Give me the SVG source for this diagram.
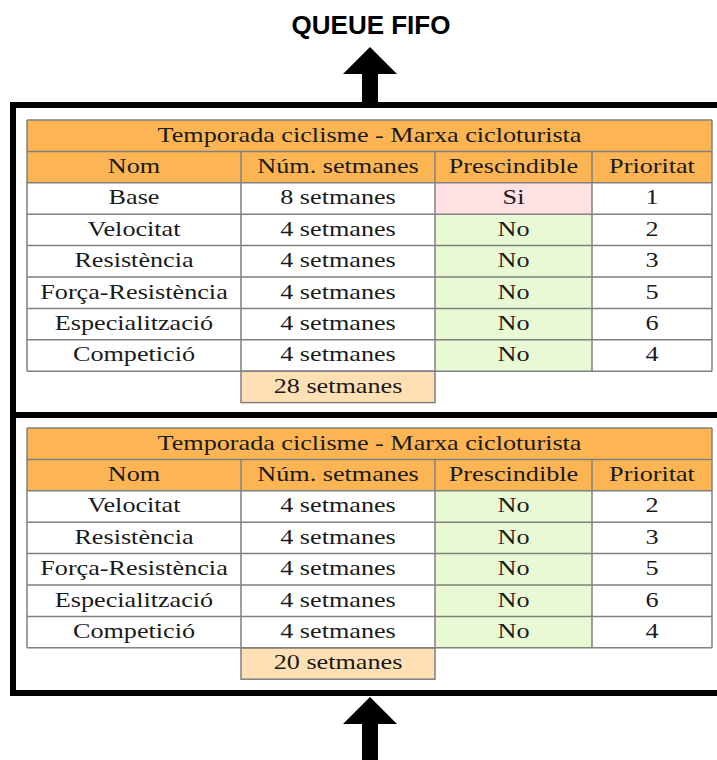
<svg xmlns="http://www.w3.org/2000/svg" width="717" height="760" viewBox="0 0 717 760">
  <style>
    .bg { fill: #ffffff; }
    .frame { fill: none; stroke: #000000; stroke-width: 6; }
    .head { fill: #fdb553; }
    .yes { fill: #ffe0e3; }
    .no { fill: #e9f9d3; }
    .sum { fill: #ffe0b4; stroke: #808080; stroke-width: 1.5; }
    .grid { fill: none; stroke: #808080; stroke-width: 1.5; }
    .cell { font-family: "Liberation Serif", "Times New Roman", serif; font-size: 22px; fill: #1a1a1a; text-anchor: middle; }
    .title { font-family: "Liberation Sans", Arial, sans-serif; font-size: 26px; font-weight: bold; fill: #000000; text-anchor: middle; }
    .arrow { fill: #000000; }
  </style>
  <defs>
    <!-- block arrow pointing up, tip at the origin -->
    <path id="arrow-out" d="M0,0 L27,27 L8,27 L8,56 L-8,56 L-8,27 L-27,27 Z"/>
    <path id="arrow-in" d="M0,0 L27,27 L8,27 L8,64 L-8,64 L-8,27 L-27,27 Z"/>
  </defs>

  <rect class="bg" x="0" y="0" width="717" height="760"/>

  <g id="queue-label">
    <text class="title" x="371" y="34">QUEUE FIFO</text>
  </g>

  <!-- queue frame: two slots, open to the right -->
  <g id="queue-frame">
    <path class="frame" d="M730,105 H13 V693 H730 M13,415 H730"/>
  </g>

  <!-- slot 1: full season -->
  <g id="table-1">
    <rect class="head" x="27" y="120" width="685" height="62.8"/>
    <rect class="yes" x="435" y="182.8" width="157" height="31.4"/>
    <rect class="no" x="435" y="214.2" width="157" height="157"/>
    <rect class="sum" x="241" y="371.2" width="194" height="31.4"/>
    <path class="grid" d="M27,120 H712 M27,151.4 H712 M27,182.8 H712 M27,214.2 H712 M27,245.6 H712 M27,277 H712 M27,308.4 H712 M27,339.8 H712 M27,371.2 H712 M27,120 V371.2 M712,120 V371.2 M241,151.4 V371.2 M435,151.4 V371.2 M592,151.4 V371.2"/>
    <text class="cell" transform="translate(369.5 141.5) scale(1.19 1)">Temporada ciclisme - Marxa cicloturista</text>
    <text class="cell" transform="translate(134 172.9) scale(1.19 1)">Nom</text>
    <text class="cell" transform="translate(338 172.9) scale(1.19 1)">Núm. setmanes</text>
    <text class="cell" transform="translate(513.5 172.9) scale(1.19 1)">Prescindible</text>
    <text class="cell" transform="translate(652 172.9) scale(1.19 1)">Prioritat</text>

    <text class="cell" transform="translate(134 204.3) scale(1.19 1)">Base</text>
    <text class="cell" transform="translate(338 204.3) scale(1.19 1)">8 setmanes</text>
    <text class="cell" transform="translate(513.5 204.3) scale(1.19 1)">Si</text>
    <text class="cell" transform="translate(652 204.3) scale(1.19 1)">1</text>

    <text class="cell" transform="translate(134 235.7) scale(1.19 1)">Velocitat</text>
    <text class="cell" transform="translate(338 235.7) scale(1.19 1)">4 setmanes</text>
    <text class="cell" transform="translate(513.5 235.7) scale(1.19 1)">No</text>
    <text class="cell" transform="translate(652 235.7) scale(1.19 1)">2</text>

    <text class="cell" transform="translate(134 267.1) scale(1.19 1)">Resistència</text>
    <text class="cell" transform="translate(338 267.1) scale(1.19 1)">4 setmanes</text>
    <text class="cell" transform="translate(513.5 267.1) scale(1.19 1)">No</text>
    <text class="cell" transform="translate(652 267.1) scale(1.19 1)">3</text>

    <text class="cell" transform="translate(134 298.5) scale(1.19 1)">Força-Resistència</text>
    <text class="cell" transform="translate(338 298.5) scale(1.19 1)">4 setmanes</text>
    <text class="cell" transform="translate(513.5 298.5) scale(1.19 1)">No</text>
    <text class="cell" transform="translate(652 298.5) scale(1.19 1)">5</text>

    <text class="cell" transform="translate(134 329.9) scale(1.19 1)">Especialització</text>
    <text class="cell" transform="translate(338 329.9) scale(1.19 1)">4 setmanes</text>
    <text class="cell" transform="translate(513.5 329.9) scale(1.19 1)">No</text>
    <text class="cell" transform="translate(652 329.9) scale(1.19 1)">6</text>

    <text class="cell" transform="translate(134 361.3) scale(1.19 1)">Competició</text>
    <text class="cell" transform="translate(338 361.3) scale(1.19 1)">4 setmanes</text>
    <text class="cell" transform="translate(513.5 361.3) scale(1.19 1)">No</text>
    <text class="cell" transform="translate(652 361.3) scale(1.19 1)">4</text>

    <text class="cell" transform="translate(338 392.7) scale(1.19 1)">28 setmanes</text>
  </g>

  <!-- slot 2: season without the base block -->
  <g id="table-2">
    <rect class="head" x="27" y="428" width="685" height="62.8"/>
    <rect class="no" x="435" y="490.8" width="157" height="157"/>
    <rect class="sum" x="241" y="647.8" width="194" height="31.4"/>
    <path class="grid" d="M27,428 H712 M27,459.4 H712 M27,490.8 H712 M27,522.2 H712 M27,553.6 H712 M27,585 H712 M27,616.4 H712 M27,647.8 H712 M27,428 V647.8 M712,428 V647.8 M241,459.4 V647.8 M435,459.4 V647.8 M592,459.4 V647.8"/>
    <text class="cell" transform="translate(369.5 449.5) scale(1.19 1)">Temporada ciclisme - Marxa cicloturista</text>
    <text class="cell" transform="translate(134 480.9) scale(1.19 1)">Nom</text>
    <text class="cell" transform="translate(338 480.9) scale(1.19 1)">Núm. setmanes</text>
    <text class="cell" transform="translate(513.5 480.9) scale(1.19 1)">Prescindible</text>
    <text class="cell" transform="translate(652 480.9) scale(1.19 1)">Prioritat</text>

    <text class="cell" transform="translate(134 512.3) scale(1.19 1)">Velocitat</text>
    <text class="cell" transform="translate(338 512.3) scale(1.19 1)">4 setmanes</text>
    <text class="cell" transform="translate(513.5 512.3) scale(1.19 1)">No</text>
    <text class="cell" transform="translate(652 512.3) scale(1.19 1)">2</text>

    <text class="cell" transform="translate(134 543.7) scale(1.19 1)">Resistència</text>
    <text class="cell" transform="translate(338 543.7) scale(1.19 1)">4 setmanes</text>
    <text class="cell" transform="translate(513.5 543.7) scale(1.19 1)">No</text>
    <text class="cell" transform="translate(652 543.7) scale(1.19 1)">3</text>

    <text class="cell" transform="translate(134 575.1) scale(1.19 1)">Força-Resistència</text>
    <text class="cell" transform="translate(338 575.1) scale(1.19 1)">4 setmanes</text>
    <text class="cell" transform="translate(513.5 575.1) scale(1.19 1)">No</text>
    <text class="cell" transform="translate(652 575.1) scale(1.19 1)">5</text>

    <text class="cell" transform="translate(134 606.5) scale(1.19 1)">Especialització</text>
    <text class="cell" transform="translate(338 606.5) scale(1.19 1)">4 setmanes</text>
    <text class="cell" transform="translate(513.5 606.5) scale(1.19 1)">No</text>
    <text class="cell" transform="translate(652 606.5) scale(1.19 1)">6</text>

    <text class="cell" transform="translate(134 637.9) scale(1.19 1)">Competició</text>
    <text class="cell" transform="translate(338 637.9) scale(1.19 1)">4 setmanes</text>
    <text class="cell" transform="translate(513.5 637.9) scale(1.19 1)">No</text>
    <text class="cell" transform="translate(652 637.9) scale(1.19 1)">4</text>

    <text class="cell" transform="translate(338 669.3) scale(1.19 1)">20 setmanes</text>
  </g>

  <g id="connectors">
    <use class="arrow" href="#arrow-out" x="370" y="47"/>
    <use class="arrow" href="#arrow-in" x="370" y="697"/>
  </g>
</svg>
